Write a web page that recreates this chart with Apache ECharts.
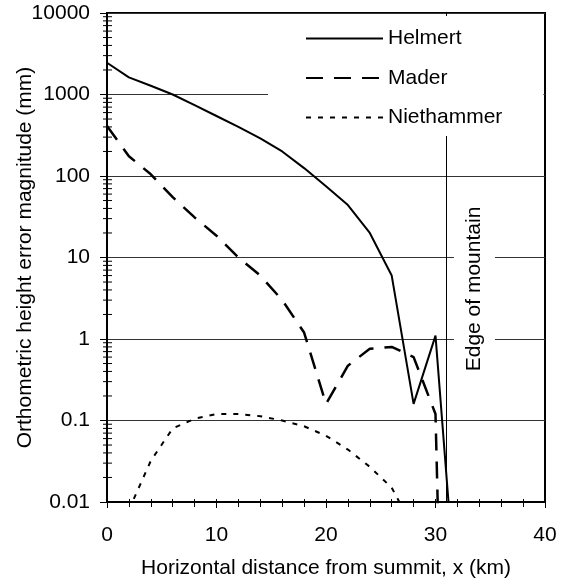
<!DOCTYPE html>
<html>
<head>
<meta charset="utf-8">
<script src="https://cdn.jsdelivr.net/npm/echarts@6/dist/echarts.min.js"></script>
<style>
 html,body{margin:0;padding:0;background:#fff;}
 #chart{width:571px;height:583px;}
</style>
</head>
<body>
<div id="chart"></div>
<script>
// data (x in km, errors in mm)
var helmertX = [0, 2, 4, 6, 8, 10, 12, 14, 16, 18, 20, 22, 24, 26, 28, 30, 32];
var helmertY = [2450, 1620, 1280, 1000, 740, 545, 400, 290, 200, 125, 75, 44, 20, 6, 0.16, 1.1, 0.0004];

var maderX = [0, 2, 4, 6, 8, 10, 12, 14, 16, 18, 20, 22, 24, 26, 28, 30, 30.4];
var maderY = [410, 175, 105, 55, 31, 18.5, 10, 6, 3, 1.2, 0.16, 0.47, 0.76, 0.8, 0.6, 0.12, 0.0008];

var niethX = [2, 4, 6, 8, 10, 12, 14, 16, 18, 20, 22, 24, 26, 28];
var niethY = [0.008, 0.032, 0.08, 0.105, 0.12, 0.12, 0.113, 0.1, 0.085, 0.065, 0.044, 0.027, 0.015, 0.0047];

var yTicks = [0.01, 0.1, 1, 10, 100, 1000, 10000];
var edgeKm = 31;

var FONT = '"Liberation Sans", Arial, sans-serif';
var ink = '#000';

function pairs(xs, ys){ return xs.map(function(x, i){ return [x, ys[i]]; }); }

// log minor ticks 2..9 in each decade, drawn on the left axis
var yMinor = [];
for (var d = 0; d < yTicks.length - 1; d++)
  for (var k = 2; k <= 9; k++) yMinor.push([0, +(yTicks[d] * k).toPrecision(3)]);

var chart = echarts.init(document.getElementById('chart'));

var txt = {fontFamily: FONT, fontSize: 21, color: ink};

chart.setOption({
  animation: false,
  backgroundColor: '#fff',
  grid: {left: 107, right: 26, top: 13, bottom: 81, show: true,
         outerBoundsMode: 'none', containLabel: false,
         borderColor: ink, borderWidth: 2, backgroundColor: 'transparent'},
  legend: {
    orient: 'vertical', left: 268, top: 16, z: 10,
    backgroundColor: '#fff',
    padding: [12, 41, 8, 37],
    itemWidth: 77, itemHeight: 14, itemGap: 18.5,
    selectedMode: false,
    itemStyle: {opacity: 0},
    textStyle: {fontFamily: FONT, fontSize: 21, color: ink},
    data: ['Helmert', 'Mader', 'Niethammer']
  },
  xAxis: [{
    type: 'value', min: 0, max: 40, interval: 10,
    name: 'Horizontal distance from summit, x (km)',
    nameLocation: 'middle', nameGap: 56, nameMoveOverlap: false, nameTextStyle: txt,
    axisLine: {show: true, onZero: false, lineStyle: {color: ink, width: 2}},
    axisTick: {show: true, length: 6, lineStyle: {color: ink, width: 1}},
    minorTick: {show: true, splitNumber: 5, length: 5, lineStyle: {color: ink, width: 1}},
    axisLabel: {margin: 23, fontFamily: FONT, fontSize: 21, color: ink},
    splitLine: {show: false}
  }, {
    type: 'value', min: 0, max: 40, interval: 10, position: 'bottom',
    axisLine: {show: false, onZero: false},
    axisTick: {show: true, inside: true, length: 3, lineStyle: {color: ink, width: 1}},
    minorTick: {show: true, splitNumber: 5, length: 3, lineStyle: {color: ink, width: 1}},
    axisLabel: {show: false}, splitLine: {show: false}
  }],
  yAxis: {
    type: 'log', logBase: 10, min: 0.01, max: 10000,
    name: 'Orthometric height error magnitude (mm)',
    nameLocation: 'middle', nameGap: 71, nameMoveOverlap: false, nameTextStyle: txt,
    axisLine: {show: true, onZero: false, lineStyle: {color: ink, width: 2}},
    axisTick: {show: true, length: 7, lineStyle: {color: ink, width: 1}},
    axisLabel: {margin: 17, fontFamily: FONT, fontSize: 21, color: ink,
                formatter: function(v){ return String(+(+v).toPrecision(3)); }},
    splitLine: {show: true, lineStyle: {color: '#333', width: 1}}
  },
  series: [{
    name: 'Helmert', type: 'line', symbol: 'none', z: 3,
    lineStyle: {color: ink, width: 2, type: 'solid'},
    itemStyle: {color: ink},
    data: pairs(helmertX, helmertY),
    markLine: {
      silent: true, symbol: 'none', label: {show: false},
      lineStyle: {color: ink, width: 1, type: 'solid'},
      data: [{xAxis: edgeKm}]
    }
  }, {
    name: 'Mader', type: 'line', symbol: 'none', z: 3,
    lineStyle: {color: ink, width: 2.5, type: [17, 11]},
    itemStyle: {color: ink},
    data: pairs(maderX, maderY)
  }, {
    name: 'Niethammer', type: 'line', symbol: 'none', z: 3,
    lineStyle: {color: ink, width: 2, type: [5, 7]},
    itemStyle: {color: ink},
    data: pairs(niethX, niethY)
  }, {
    name: 'minor', type: 'custom', silent: true, clip: false, z: 4,
    data: yMinor,
    renderItem: function(params, api){
      var p = api.coord([api.value(0), api.value(1)]);
      return {type: 'line', shape: {x1: p[0] - 4, y1: p[1], x2: p[0] + 5, y2: p[1]},
              style: {stroke: ink, lineWidth: 1}};
    }
  }]
});

// annotation beside the edge line
var edgePx = chart.convertToPixel({xAxisIndex: 0}, edgeKm);
chart.setOption({
  graphic: [{
    type: 'text', x: edgePx + 28, y: 289, rotation: Math.PI / 2, z: 10,
    style: {text: 'Edge of mountain', font: '21px ' + FONT, fill: ink,
            align: 'center', verticalAlign: 'middle',
            backgroundColor: '#fff', padding: [10, 4]}
  }]
});
</script>
</body>
</html>
